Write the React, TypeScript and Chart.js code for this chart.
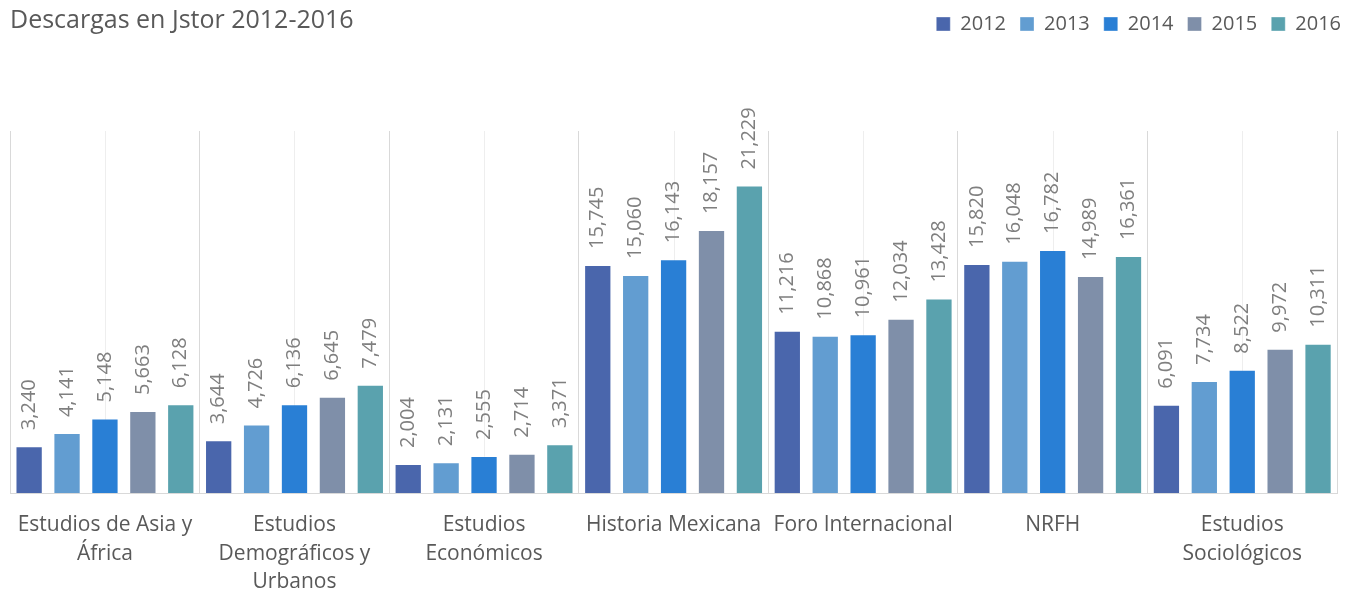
import React, { useEffect, useRef } from "react";
import { Chart, registerables } from "chart.js";

Chart.register(...registerables);

const categories: (string | string[])[] = [
  ["Estudios de Asia y", "África"],
  ["Estudios", "Demográficos y", "Urbanos"],
  ["Estudios", "Económicos"],
  "Historia Mexicana",
  "Foro Internacional",
  "NRFH",
  ["Estudios", "Sociológicos"],
];
const years = ["2012", "2013", "2014", "2015", "2016"];
const v2012 = [3240, 3644, 2004, 15745, 11216, 15820, 6091];
const v2013 = [4141, 4726, 2131, 15060, 10868, 16048, 7734];
const v2014 = [5148, 6136, 2555, 16143, 10961, 16782, 8522];
const v2015 = [5663, 6645, 2714, 18157, 12034, 14989, 9972];
const v2016 = [6128, 7479, 3371, 21229, 13428, 16361, 10311];
const seriesValues = [v2012, v2013, v2014, v2015, v2016];
const colors = ["#4A66AC", "#629DD1", "#297FD5", "#7F8FA9", "#5AA2AE"];
const titleText = "Descargas en Jstor 2012-2016";

const FONT = "'Open Sans', sans-serif";
const TEXT = "#595959";

const centerLines = {
  id: "centerLines",
  beforeDatasetsDraw(chart: any) {
    const { ctx, chartArea } = chart;
    const xs = chart.scales.x;
    ctx.save();
    ctx.strokeStyle = "#eeeeee";
    ctx.lineWidth = 1;
    for (let i = 0; i < categories.length; i++) {
      const x = Math.round(xs.getPixelForValue(i)) + 0.5;
      ctx.beginPath();
      ctx.moveTo(x, chartArea.top);
      ctx.lineTo(x, chartArea.bottom);
      ctx.stroke();
    }
    ctx.restore();
  },
};

const dataLabels = {
  id: "dataLabels",
  afterDatasetsDraw(chart: any) {
    const { ctx } = chart;
    ctx.save();
    ctx.fillStyle = "#7F7F7F";
    ctx.font = `20px ${FONT}`;
    ctx.textAlign = "left";
    ctx.textBaseline = "middle";
    chart.data.datasets.forEach((ds: any, di: number) => {
      const meta = chart.getDatasetMeta(di);
      meta.data.forEach((el: any, i: number) => {
        const txt = Number(ds.data[i]).toLocaleString("en-US");
        ctx.save();
        ctx.translate(el.x, el.y - 16);
        ctx.rotate(-Math.PI / 2);
        ctx.fillText(txt, 0, 0);
        ctx.restore();
      });
    });
    ctx.restore();
  },
};

const legendSpace = {
  id: "legendSpace",
  beforeInit(chart: any) {
    const legend = chart.legend;
    if (!legend) return;
    const orig = legend.fit;
    legend.fit = function () {
      orig.call(this);
      this.height = 131;
    };
  },
  afterLayout(chart: any) {
    const legend = chart.legend;
    if (!legend) return;
    legend.left += 18;
    legend.right += 18;
  },
};

export default function App() {
  const ref = useRef<HTMLCanvasElement | null>(null);
  useEffect(() => {
    if (!ref.current) return;
    const chart = new Chart(ref.current, {
      type: "bar",
      data: {
        labels: categories,
        datasets: years.map((y, i) => ({
          label: y,
          data: seriesValues[i],
          backgroundColor: colors[i],
          borderColor: "rgba(255,255,255,0.35)",
          borderWidth: 1,
          barPercentage: 0.72,
          categoryPercentage: 1,
        })),
      },
      options: {
        animation: false,
        responsive: false,
        maintainAspectRatio: false,
        layout: { padding: { left: 9, right: 18, top: 0, bottom: 0 } },
        plugins: {
          legend: {
            position: "top",
            align: "end",
            labels: {
              boxWidth: 14,
              boxHeight: 14,
              padding: 14,
              color: TEXT,
              font: { family: FONT, size: 20 },
            },
          },
          tooltip: { enabled: false },
          title: { display: false },
        },
        scales: {
          x: {
            grid: { offset: true, color: "#d9d9d9", drawTicks: false },
            border: { color: "#d9d9d9" },
            ticks: {
              color: TEXT,
              font: { family: FONT, size: 21, lineHeight: 1.38 },
              padding: 17,
              maxRotation: 0,
              minRotation: 0,
              autoSkip: false,
            },
          },
          y: { display: false, min: 0, max: 25000 },
        },
      },
      plugins: [legendSpace, centerLines, dataLabels],
    });
    return () => chart.destroy();
  }, []);
  return (
    <div style={{ position: "fixed", left: 0, top: 0, width: 1355, height: 592, overflow: "hidden", background: "#fff" }}>
      <canvas ref={ref} width={1355} height={614} style={{ position: "absolute", left: 0, top: 0 }} />
      <div
        style={{
          position: "absolute",
          left: 10,
          top: 1,
          fontFamily: FONT,
          fontSize: 25,
          color: TEXT,
          whiteSpace: "nowrap",
        }}
      >
        {titleText}
      </div>
    </div>
  );
}
